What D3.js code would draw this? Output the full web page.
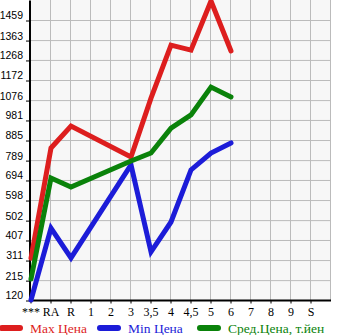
<!DOCTYPE html>
<html><head><meta charset="utf-8">
<script src="https://cdn.jsdelivr.net/npm/d3@7"></script>
<style>body{margin:0;background:#fff}svg{display:block}</style>
</head><body>
<svg id="c" width="345" height="335"></svg>
<script>
const categories = ["***","RA","R","1","2","3","3,5","4","4,5","5","6","7","8","9","S"];
const maxPrice = [320, 847, 952, null, null, 804, 1085, 1339, 1315, 1550, 1311, null, null, null, null];
const minPrice = [120, 464, 321, null, null, 766, 350, 493, 742, 823, 871, null, null, null, null];
const avgPrice = [220, 703, 660, null, null, 785, 823, 942, 1005, 1138, 1091, null, null, null, null];
const yTicks = [120,215,311,407,502,598,694,789,885,981,1076,1172,1268,1363,1459];
const legendLabels = ["Max Цена","Min Цена","Сред.Цена, т.йен"];
const colors = ["#dd1e1e","#1c1cd8","#0a820a"];

const svg = d3.select("#c");
const L = 31, R = 331, T = 0, B = 300;
const x = d3.scaleLinear().domain([0, 15]).range([L, R]);
const step = (1459-120)/14;
const y = d3.scaleLinear().domain([120, 1459+step]).range([B, T]);

svg.append("rect").attr("x",L).attr("y",T).attr("width",R-L).attr("height",B-T).attr("fill","#f7f7f7");
const g = svg.append("g");
for (let i=1;i<=15;i++) g.append("line").attr("x1",x(i)-0.5).attr("x2",x(i)-0.5).attr("y1",T).attr("y2",B).attr("stroke","#bbb").attr("stroke-width",1);
yTicks.forEach(v=>g.append("line").attr("x1",L).attr("x2",R).attr("y1",y(v)+0.5).attr("y2",y(v)+0.5).attr("stroke","#bbb"));

const xAxis = d3.axisBottom(x).tickValues(d3.range(0,15)).tickSize(3).tickFormat(i=>categories[i]);
const xg = svg.append("g").attr("transform",`translate(-0.5,${B+0.5})`).call(xAxis);
xg.select(".domain").attr("d",`M${L},0H${R+0.5}`).attr("stroke","#000").attr("stroke-width",2);
xg.selectAll("text").attr("font-family","Liberation Serif").attr("font-size",12).attr("fill","#000").attr("dy","0.8em");
xg.selectAll(".tick line").attr("stroke","#000");

const yAxis = d3.axisLeft(y).tickValues(yTicks).tickSize(4).tickPadding(3).tickFormat(d3.format("d"));
const yg = svg.append("g").attr("transform",`translate(${L-1},0.5)`).call(yAxis);
yg.select(".domain").attr("d",`M0,${T}V${B}`).attr("stroke","#000").attr("stroke-width",2);
yg.selectAll("text").attr("font-family","Liberation Sans").attr("font-size",10.5).attr("fill","#000").attr("dy","-0.15em");
yg.selectAll(".tick line").attr("stroke","#000");

const line = d3.line().x(d=>x(d[0])).y(d=>y(d[1]));
[maxPrice, minPrice, avgPrice].forEach((s,k)=>{
  const pts = s.map((v,i)=>[i,v]).filter(d=>d[1]!==null);
  svg.append("path").attr("d",line(pts)).attr("fill","none").attr("stroke",colors[k]).attr("stroke-width",5).attr("stroke-linejoin","miter").attr("stroke-linecap","round");
});

const lx = [0, 98, 198];
legendLabels.forEach((t,k)=>{
  svg.append("line").attr("x1",lx[k]+2).attr("x2",lx[k]+20).attr("y1",328).attr("y2",328).attr("stroke",colors[k]).attr("stroke-width",6).attr("stroke-linecap","round");
  svg.append("text").attr("x",lx[k]+30).attr("y",333).attr("font-family","Liberation Serif").attr("font-size",13.5).attr("fill",colors[k]).text(t);
});
</script>
</body></html>
